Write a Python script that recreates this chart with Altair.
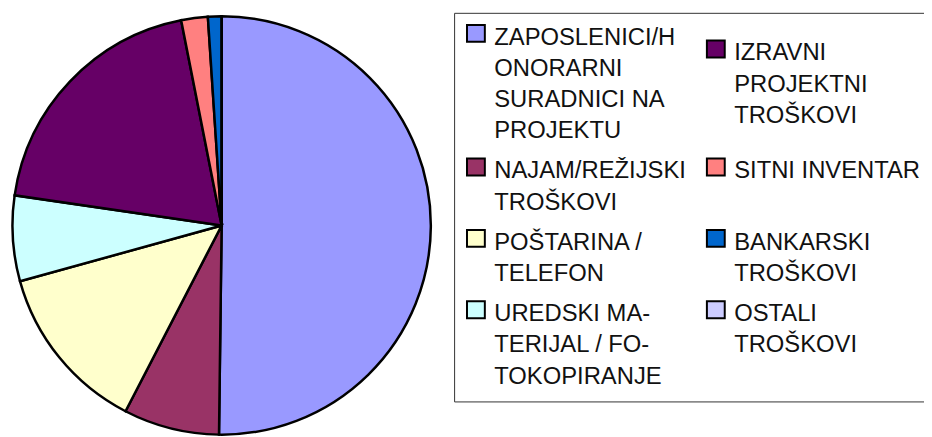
import altair as alt
import pandas as pd

# Slices in drawing order (clockwise from 12 o'clock); '|' marks a line break in the legend
categories = [
    "ZAPOSLENICI/H|ONORARNI|SURADNICI NA|PROJEKTU",
    "NAJAM/REŽIJSKI|TROŠKOVI",
    "POŠTARINA /|TELEFON",
    "UREDSKI MA-|TERIJAL / FO-|TOKOPIRANJE",
    "IZRAVNI|PROJEKTNI|TROŠKOVI",
    "SITNI INVENTAR",
    "BANKARSKI|TROŠKOVI",
    "OSTALI|TROŠKOVI",
]
values = [50.2, 7.4, 13.1, 6.6, 19.6, 2.05, 1.05, 0.0]
colors = ["#9999FF", "#993366", "#FFFFCC", "#CCFFFF", "#660066", "#FF8080", "#0066CC", "#CCCCFF"]

df = pd.DataFrame({"cat": categories, "value": values, "idx": list(range(len(categories)))})

chart = alt.Chart(df).mark_arc(
    outerRadius=211, stroke="black", strokeWidth=2.5
).encode(
    theta=alt.Theta("value:Q", stack=True),
    order=alt.Order("idx:Q"),
    color=alt.Color(
        "cat:N",
        scale=alt.Scale(domain=categories, range=colors),
        legend=alt.Legend(
            title=None,
            orient="none",
            legendX=450,
            legendY=3,
            columns=2,
            symbolType="M-12,-13H6V4H-12Z",
            symbolSize=4,
            symbolStrokeColor="black",
            symbolStrokeWidth=2,
            symbolOpacity=1,
            labelFont="Liberation Sans",
            labelFontSize=24,
            labelColor="#111111",
            labelExpr="split(datum.label, '|')",
            labelLimit=0,
            labelOffset=3.5,
            labelBaseline="middle",
            columnPadding=17,
            rowPadding=11,
            padding=13,
            strokeColor="#333333",
            fillColor="white",
        ),
    ),
    x=alt.value(215.5),
    y=alt.value(217.5),
).properties(
    width=924, height=429, autosize=alt.AutoSizeParams(type="none"), padding=0
).configure(
    style={"guide-label": {"lineHeight": 31.5}},
    view=alt.ViewConfig(stroke=None),
)

chart.save("out.html", embed_options={"renderer": "svg", "actions": False})
